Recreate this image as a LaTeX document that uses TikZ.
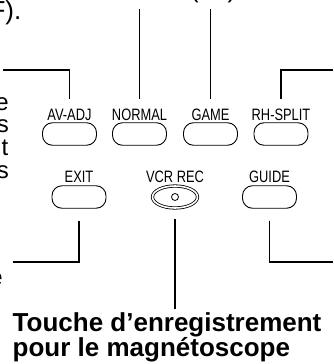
\documentclass[tikz,border=0pt]{standalone}
\usepackage{fontspec}
\setmainfont{Liberation Sans}
\newfontfamily\narrowfont[FakeStretch=0.78]{Liberation Sans}
\usetikzlibrary{shapes.geometric}
\begin{document}
\begin{tikzpicture}[x=1pt,y=-1pt,
  lbl/.style={font=\narrowfont\fontsize{16.5}{16.5}\selectfont, inner sep=0pt, anchor=base},
  btn/.style={draw, line width=0.9pt, rounded corners=10pt, minimum width=54pt, minimum height=22.5pt, inner sep=0pt},
  lead/.style={line width=1.7pt},
  body/.style={font=\fontsize{24}{24}\selectfont, inner sep=0pt},
  head/.style={font=\fontsize{26}{26}\selectfont, inner sep=0pt, anchor=base west},
]
\useasboundingbox (0,0) rectangle (333,364);

% cut-off text at the edges
\node[head, anchor=base east] (tl) at (21.5,19.5) {F).};
\node[head] (lp) at (190,-2.5) {(};
\node[head] (rp) at (227.5,-2.5) {)};
\node[body, anchor=base east] (e1) at (9,110) {e};
\node[body, anchor=base east] (e2) at (9,132.7) {s};
\node[body, anchor=base east] (e3) at (8.5,155.3) {t};
\node[body, anchor=base east] (e4) at (9,178) {s};
\node[body, anchor=base east] (e5) at (3,285) {e};

% row 1
\node[lbl] (l1) at (69.5,120.5) {AV-ADJ};
\node[lbl] (l2) at (139.5,120.5) {NORMAL};
\node[lbl] (l3) at (210.5,120.5) {GAME};
\node[lbl] (l4) at (281,120.5) {RH-SPLIT};
\node[btn] (b1) at (69.5,134) {};
\node[btn] (b2) at (139.5,134) {};
\node[btn] (b3) at (210.5,134) {};
\node[btn] (b4) at (281,134) {};

% row 2
\node[lbl] (l5) at (79,182.5) {EXIT};
\node[lbl] (l6) at (175,182.5) {VCR REC};
\node[lbl] (l7) at (269.5,182.5) {GUIDE};
\node[btn] (b5) at (79,197) {};
\node[draw, ellipse, line width=0.8pt, double=white, double distance=1.6pt,
      minimum width=45pt, minimum height=22pt, inner sep=0pt] (b6) at (175,197) {};
\draw[line width=0.8pt] (b6.center) circle (3.5pt);
\node[btn] (b7) at (269.5,197) {};

% caption
\node[font=\fontsize{26}{25}\selectfont\bfseries, inner sep=0pt, anchor=north west, align=left]
  (cap) at (12.5,312) {Touche d’enregistrement\\pour le magnétoscope};

% leaders
\coordinate (c1) at (3,70);
\coordinate (c2) at (l2.north |- 0,9);
\coordinate (c3) at (l3.north |- 0,9);
\coordinate (c4) at (333,70);
\coordinate (c5) at (13,262);
\coordinate (c6) at (b6.south |- 0,309);
\coordinate (c7) at (333,262);

\draw[lead, shorten >=9.5pt] (c1) -| (l1.north);
\draw[lead, shorten >=9.5pt] (c2) -- (l2.north);
\draw[lead, shorten >=9.5pt] (c3) -- (l3.north);
\draw[lead, shorten >=9.5pt] (c4) -| (l4.north);
\draw[lead, shorten <=12pt] (b5.south) |- (c5);
\draw[lead, shorten <=11pt] (b6.south) -- (c6);
\draw[lead, shorten <=12pt] (b7.south) |- (c7);
\end{tikzpicture}
\end{document}
